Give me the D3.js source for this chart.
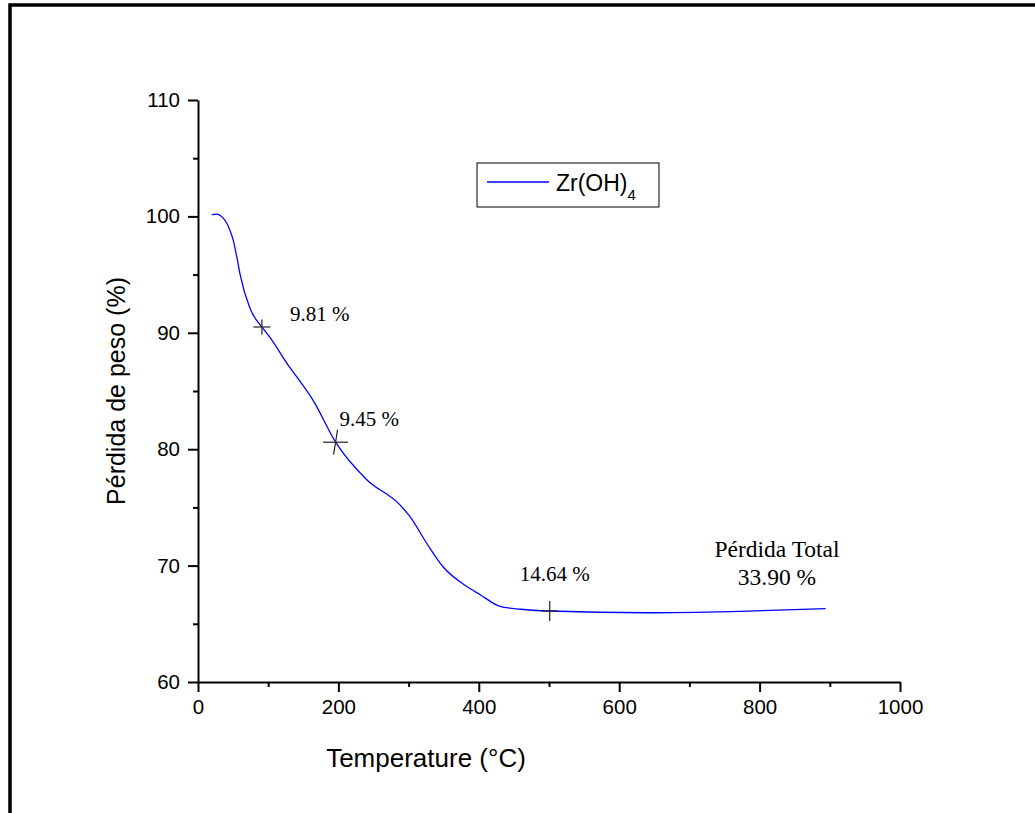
<!DOCTYPE html>
<html>
<head>
<meta charset="utf-8">
<script src="https://cdn.jsdelivr.net/npm/d3@7"></script>
<style>
  body { margin: 0; background: #fff; }
  svg { display: block; }
  .axis text { font-family: "Liberation Sans", Arial, sans-serif; font-size: 20.5px; fill: #000; }
  .axis path, .axis line { stroke: #000; stroke-width: 2; }
  .note { font-family: "Liberation Serif", "Times New Roman", serif; font-size: 21px; fill: #000; }
</style>
</head>
<body>
<script>
// TGA curve
var temperature = [19.5, 26, 36, 45.6, 50, 55, 60, 74, 91, 102.5, 131, 142, 164, 196, 240, 288, 302, 326, 349, 383, 402, 430, 460, 501, 639, 760, 894];
var weight = [100.15, 100.2, 99.85, 98.8, 98.0, 96.6, 95.0, 92.1, 90.5, 89.6, 87.0, 86.1, 84.2, 80.6, 77.4, 75.2, 74.2, 71.9, 69.9, 68.2, 67.5, 66.5, 66.25, 66.1, 65.95, 66.05, 66.3];

// marked steps
var markT = [91, 196, 501];
var markW = [90.5, 80.6, 66.1];
var markText = ["9.81 %", "9.45 %", "14.64 %"];

var xTicks = [0, 200, 400, 600, 800, 1000];
var xMinor = [100, 300, 500, 700, 900];
var yTicks = [60, 70, 80, 90, 100, 110];
var yMinor = [65, 75, 85, 95, 105];

var totalText = ["Pérdida Total", "33.90 %"];

var width = 1035, height = 813;
var svg = d3.select("body").append("svg")
  .attr("width", width)
  .attr("height", height);

// outer frame (only top and left show)
svg.append("path")
  .attr("d", "M10," + height + "V5H" + width)
  .attr("fill", "none")
  .attr("stroke", "#000")
  .attr("stroke-width", 3.5);

var x = d3.scaleLinear().domain([0, 1000]).range([198, 900]);
var y = d3.scaleLinear().domain([60, 110]).range([682, 100]);

// minor ticks first
svg.append("g").attr("class", "axis")
  .attr("transform", "translate(0,682)")
  .call(d3.axisBottom(x).tickValues(xMinor).tickSize(5).tickFormat(""))
  .select(".domain").remove();
svg.append("g").attr("class", "axis")
  .attr("transform", "translate(198,0)")
  .call(d3.axisLeft(y).tickValues(yMinor).tickSize(5).tickFormat(""))
  .select(".domain").remove();

svg.append("g").attr("class", "axis")
  .attr("transform", "translate(0,682)")
  .call(d3.axisBottom(x).tickValues(xTicks).tickSize(10).tickSizeOuter(0).tickPadding(7).tickFormat(d3.format("d")));
svg.append("g").attr("class", "axis")
  .attr("transform", "translate(198,0)")
  .call(d3.axisLeft(y).tickValues(yTicks).tickSize(10).tickSizeOuter(0).tickPadding(8).tickFormat(d3.format("d")));

// axis titles
svg.append("text")
  .attr("x", 426).attr("y", 767)
  .attr("text-anchor", "middle")
  .style("font-family", "Liberation Sans, Arial, sans-serif")
  .style("font-size", "26px")
  .text("Temperature (°C)");
svg.append("text")
  .attr("transform", "translate(125,391) rotate(-90)")
  .attr("text-anchor", "middle")
  .style("font-family", "Liberation Sans, Arial, sans-serif")
  .style("font-size", "25px")
  .text("Pérdida de peso (%)");

// the curve
var pts = d3.zip(temperature, weight);
var line = d3.line()
  .x(function(d) { return x(d[0]); })
  .y(function(d) { return y(d[1]); })
  .curve(d3.curveMonotoneX);
svg.append("path")
  .datum(pts)
  .attr("d", line)
  .attr("fill", "none")
  .attr("stroke", "#0000ff")
  .attr("stroke-width", 1.3);

// crosses on the curve
var armH = [8.5, 12.5, 8];
var armV = [7.5, 12.5, 10];
var tilt = [0, 2, 0];
var labelDx = [28, 4, -30];
var labelDy = [-6, -16, -30];
for (var i = 0; i < markT.length; i++) {
  var cx = x(markT[i]), cy = y(markW[i]);
  svg.append("line")
    .attr("x1", cx - armH[i]).attr("x2", cx + armH[i])
    .attr("y1", cy).attr("y2", cy)
    .attr("stroke", "#222").attr("stroke-width", 1.2);
  svg.append("line")
    .attr("x1", cx + tilt[i]).attr("x2", cx - tilt[i])
    .attr("y1", cy - armV[i]).attr("y2", cy + armV[i])
    .attr("stroke", "#222").attr("stroke-width", 1.2);
  svg.append("text").attr("class", "note")
    .attr("x", cx + labelDx[i]).attr("y", cy + labelDy[i])
    .text(markText[i]);
}

// total loss note
svg.selectAll(".total")
  .data(totalText)
  .enter().append("text")
  .attr("class", "note total")
  .attr("text-anchor", "middle")
  .style("font-size", "23.5px")
  .attr("x", 777)
  .attr("y", function(d, i) { return 557 + i * 28; })
  .text(function(d) { return d; });

// legend
var lg = svg.append("g");
lg.append("rect")
  .attr("x", 477).attr("y", 163)
  .attr("width", 182).attr("height", 44)
  .attr("fill", "#fff").attr("stroke", "#000").attr("stroke-width", 1);
lg.append("line")
  .attr("x1", 487).attr("x2", 549)
  .attr("y1", 182).attr("y2", 182)
  .attr("stroke", "#0000ff").attr("stroke-width", 1.3);
var lt = lg.append("text")
  .attr("x", 556).attr("y", 191)
  .style("font-family", "Liberation Sans, Arial, sans-serif")
  .style("font-size", "23px")
  .text("Zr(OH)");
lt.append("tspan")
  .attr("dy", 9)
  .style("font-size", "15px")
  .text("4");
</script>
</body>
</html>
